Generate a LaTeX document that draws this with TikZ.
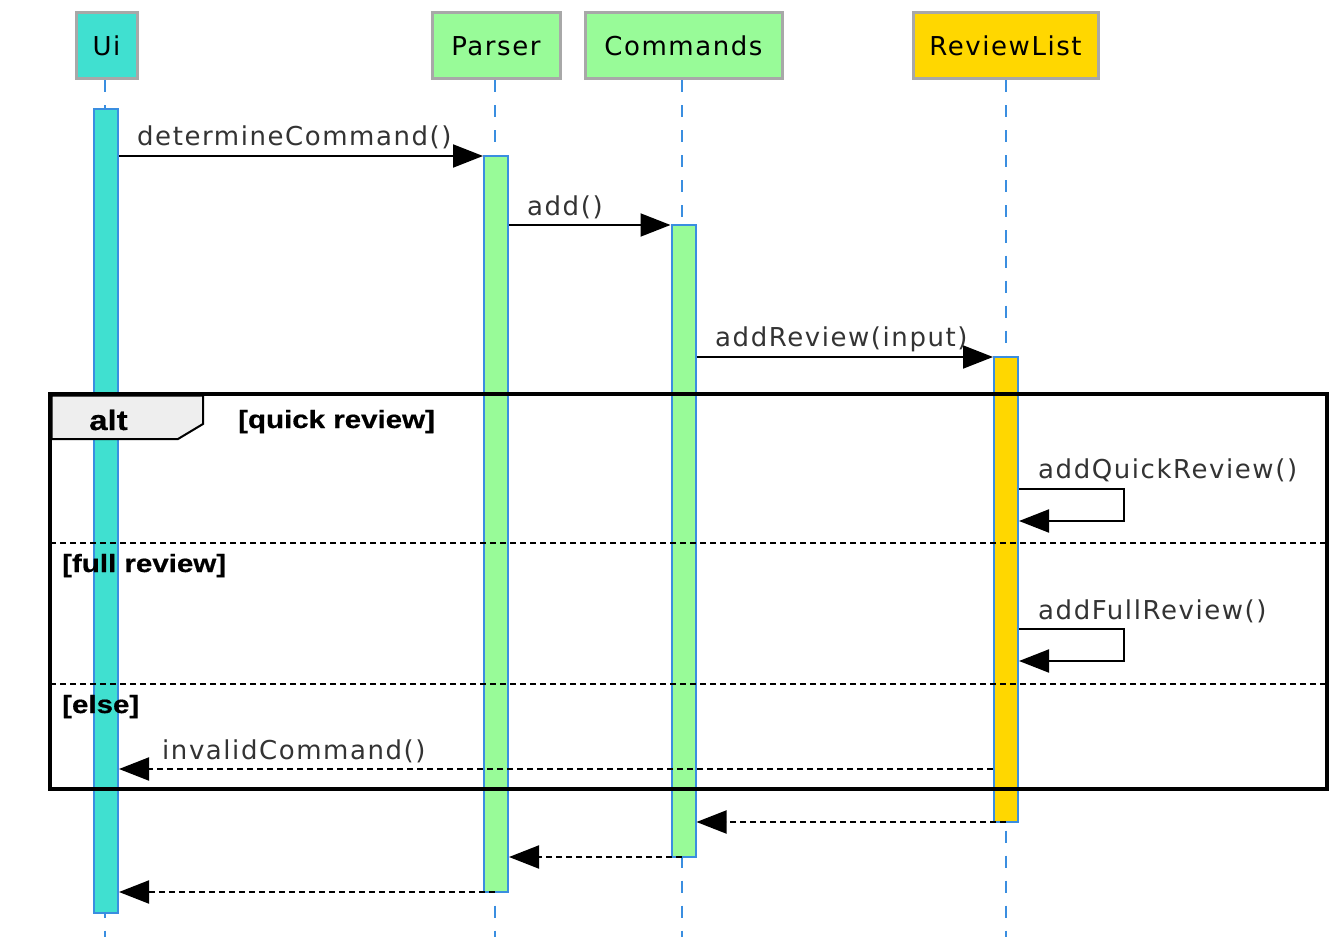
\documentclass[tikz,border=0pt]{standalone}
\usepackage{fontspec}
\setmainfont{DejaVu Sans}[LetterSpace=6]
\newfontfamily\guardfont{Liberation Sans}[FakeStretch=1.18, BoldFeatures={FakeStretch=1.18, FakeBold=0.6}]
\usetikzlibrary{arrows.meta}
\definecolor{uicol}{HTML}{40E0D0}
\definecolor{grncol}{HTML}{98FB98}
\definecolor{goldcol}{HTML}{FFD700}
\definecolor{boxborder}{HTML}{A8A8A8}
\definecolor{lifeblue}{HTML}{3A8EE0}
\definecolor{txtgray}{HTML}{333333}
\definecolor{tabgray}{HTML}{EEEEEE}
\tikzset{
  partbox/.style={draw=boxborder, line width=3pt, minimum height=66pt, inner sep=0pt,
    font=\fontsize{26}{28}\selectfont, text=black},
  lifeline/.style={draw=lifeblue, line width=2pt, dash pattern=on 12pt off 13pt},
  actbar/.style={draw=lifeblue, line width=2pt, minimum width=24pt, inner sep=0pt},
  msg/.style={draw=black, line width=2pt, -{Triangle[length=30pt,width=23pt]}},
  ret/.style={msg, dash pattern=on 6pt off 4pt},
  lbl/.style={font=\fontsize{26}{28}\selectfont, text=txtgray, inner sep=0pt, anchor=base west},
  guard/.style={font=\guardfont\bfseries\fontsize{25}{27}\selectfont, text=black, inner sep=0pt, anchor=base west},
  divider/.style={draw=black, line width=2pt, dash pattern=on 6pt off 4pt},
}
\begin{document}
\begin{tikzpicture}[x=1pt,y=-1pt]
\useasboundingbox (0,0) rectangle (1341,952);
% participants
\node[partbox, fill=uicol, minimum width=61pt] (ui) at (106.5,46) {Ui};
\node[partbox, fill=grncol, minimum width=128pt] (parser) at (496,46) {Parser};
\node[partbox, fill=grncol, minimum width=197pt] (cmds) at (683.5,46) {Commands};
\node[partbox, fill=goldcol, minimum width=185pt] (rl) at (1005.5,46) {ReviewList};
% lifeline ends
\coordinate (uiend) at (105,937);
\coordinate (pend) at (495,937);
\coordinate (cend) at (682,937);
\coordinate (rend) at (1006,937);
\draw[lifeline] (ui.south -| uiend) -- (uiend);
\draw[lifeline] (parser.south -| pend) -- (pend);
\draw[lifeline] (cmds.south -| cend) -- (cend);
\draw[lifeline] (rl.south -| rend) -- (rend);
% activation bars
\node[actbar, fill=uicol, minimum height=804pt] (uib) at (106,511) {};
\node[actbar, fill=grncol, minimum height=736pt] (pb) at (496,524) {};
\node[actbar, fill=grncol, minimum height=632pt] (cb) at (683.5,541) {};
\node[actbar, fill=goldcol, minimum height=465pt] (rb) at (1006,589.5) {};
% message rows
\coordinate (m1) at (0,156);
\coordinate (m2) at (0,225);
\coordinate (m3) at (0,357);
\coordinate (q1) at (0,489);
\coordinate (q2) at (0,521);
\coordinate (f1) at (0,629);
\coordinate (f2) at (0,661);
\coordinate (inv) at (0,769);
\coordinate (r1) at (0,822);
\coordinate (r2) at (0,857);
\coordinate (r3) at (0,892);
\coordinate (selfx) at (1124,0);
% messages
\draw[msg] (uib.east |- m1) -- (pb.west |- m1);
\node[lbl] (l1) at (137,146) {determineCommand()};
\draw[msg] (pb.east |- m2) -- (cb.west |- m2);
\node[lbl] (l2) at (527,215) {add()};
\draw[msg] (cb.east |- m3) -- (rb.west |- m3);
\node[lbl] (l3) at (715,346) {addReview(input)};
% alt frame
\draw[line width=3.5pt] (50,394) rectangle (1327,789);
\draw[line width=2pt, fill=tabgray] (51.5,395.5) -- (203,395.5) -- (203,424) -- (178,439) -- (51.5,439) -- cycle;
\node[guard, font=\guardfont\bfseries\fontsize{28}{30}\selectfont] (alt) at (89,430) {alt};
\node[guard] (g1) at (238,428) {[quick review]};
\draw[divider] (50,543) -- (1327,543);
\node[guard] (g2) at (62,572) {[full review]};
\draw[divider] (50,684) -- (1327,684);
\node[guard] (g3) at (62,713) {[else]};
% self messages
\draw[msg] (rb.east |- q1) -- (selfx |- q1) -- (selfx |- q2) -- (rb.east |- q2);
\node[lbl] (l4) at (1038,478) {addQuickReview()};
\draw[msg] (rb.east |- f1) -- (selfx |- f1) -- (selfx |- f2) -- (rb.east |- f2);
\node[lbl] (l5) at (1038,619) {addFullReview()};
% invalid
\draw[ret] (rb.west |- inv) -- (uib.east |- inv);
\node[lbl] (l6) at (162,759) {invalidCommand()};
% returns
\draw[ret] (rend |- r1) -- (cb.east |- r1);
\draw[ret] (cend |- r2) -- (pb.east |- r2);
\draw[ret] (pend |- r3) -- (uib.east |- r3);
\end{tikzpicture}
\end{document}
